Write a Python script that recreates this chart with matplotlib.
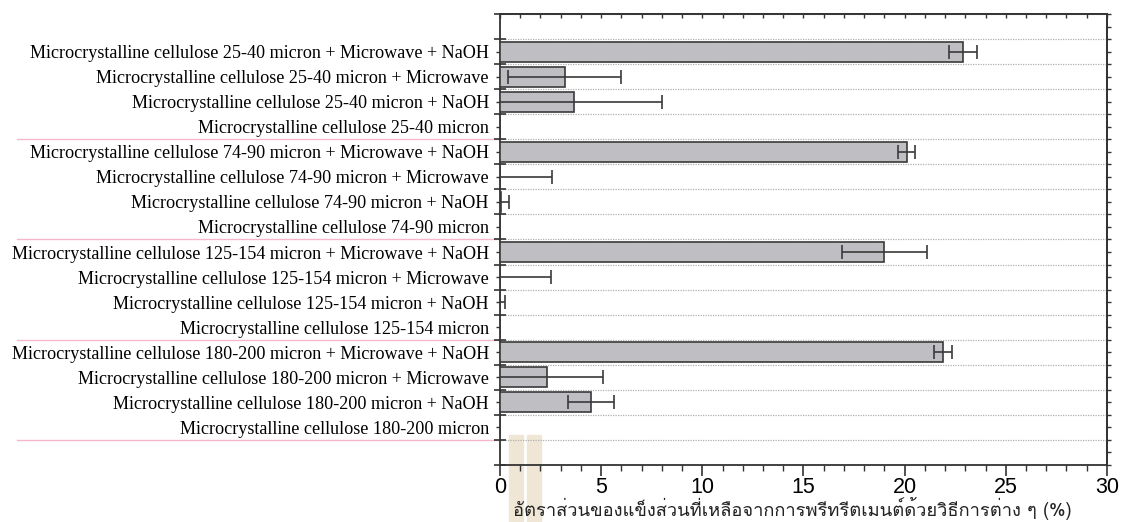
import matplotlib
matplotlib.use('Agg')
import matplotlib.pyplot as plt
from matplotlib.patches import Rectangle
from matplotlib.ticker import MultipleLocator
import numpy as np

# data, top row first
labels = [
    'Microcrystalline cellulose 25-40 micron + Microwave + NaOH',
    'Microcrystalline cellulose 25-40 micron + Microwave',
    'Microcrystalline cellulose 25-40 micron + NaOH',
    'Microcrystalline cellulose 25-40 micron',
    'Microcrystalline cellulose 74-90 micron + Microwave + NaOH',
    'Microcrystalline cellulose 74-90 micron + Microwave',
    'Microcrystalline cellulose 74-90 micron + NaOH',
    'Microcrystalline cellulose 74-90 micron',
    'Microcrystalline cellulose 125-154 micron + Microwave + NaOH',
    'Microcrystalline cellulose 125-154 micron + Microwave',
    'Microcrystalline cellulose 125-154 micron + NaOH',
    'Microcrystalline cellulose 125-154 micron',
    'Microcrystalline cellulose 180-200 micron + Microwave + NaOH',
    'Microcrystalline cellulose 180-200 micron + Microwave',
    'Microcrystalline cellulose 180-200 micron + NaOH',
    'Microcrystalline cellulose 180-200 micron',
]
values = [22.9, 3.2, 3.65, 0.0,
          20.1, 0.0, 0.05, 0.0,
          19.0, 0.0, 0.02, 0.0,
          21.9, 2.3, 4.5, 0.0]
errors = [0.7, 2.8, 4.35, 0.0,
          0.42, 2.55, 0.4, 0.0,
          2.1, 2.5, 0.22, 0.0,
          0.43, 2.8, 1.14, 0.0]
group_size = 4
xlabel = 'อัตราส่วนของแข็งส่วนที่เหลือจากการพรีทรีตเมนต์ด้วยวิธีการต่าง ๆ (%)'

fig = plt.figure(figsize=(11.22, 5.22), dpi=100)
ax = fig.add_axes([0.4456, 0.1092, 0.5410, 0.8640])
ax.patch.set_alpha(0)

# faint watermark blocks at the bottom
for x0 in (509, 527):
    fig.patches.append(Rectangle((x0 / 1122, 0), 14 / 1122, 87 / 522,
                                 transform=fig.transFigure, color='#efe6d6',
                                 zorder=-5))

y = np.arange(len(labels))
ax.barh(y, values, height=0.8, color='#bfbfc3', edgecolor='#3a3a3a',
        linewidth=1.2, zorder=3)
ax.errorbar(values, y, xerr=errors, fmt='none', ecolor='#3a3a3a',
            elinewidth=1.2, capsize=5, capthick=1.2, zorder=4)

ax.set_xlim(0, 30)
ax.set_ylim(len(labels) + 0.5, -1.5)

bounds = np.arange(-1.5, len(labels) + 1.0, 1.0)
ax.set_yticks(bounds)
ax.set_yticklabels([])
ax.set_yticks(y, minor=True)
ax.set_yticklabels(labels, minor=True, fontfamily='Liberation Serif',
                   fontsize=13.1)
ax.yaxis.grid(True, which='major', linestyle=(0, (1, 1)), color='#b0b0b0',
              linewidth=0.9)
ax.tick_params(axis='y', which='major', direction='inout', length=9,
               width=1.2, left=True, right=False, color='#333333')
ax.tick_params(axis='y', which='minor', direction='out', length=3,
               width=1, left=True, right=False, pad=5, color='#333333')

ax.xaxis.set_major_locator(MultipleLocator(5))
ax.xaxis.set_minor_locator(MultipleLocator(1))
ax.tick_params(axis='x', which='major', direction='out', length=8,
               width=1.2, top=False, color='#333333', labelsize=15.5, pad=1)
ax.tick_params(axis='x', which='minor', direction='out', length=4,
               width=1, top=False, color='#333333')
for t in ax.get_xticklabels():
    t.set_fontfamily('Liberation Sans')

# top: small inward ticks, right: small outward ticks
top = ax.secondary_xaxis('top')
top.xaxis.set_major_locator(MultipleLocator(1))
top.tick_params(direction='in', length=3, width=1, color='#333333',
                labeltop=False)
right = ax.secondary_yaxis('right')
right.set_yticks(np.arange(-1.5, len(labels) + 0.6, 0.5))
right.tick_params(direction='out', length=3, width=1, color='#333333',
                  labelright=False)

for a in (ax, top, right):
    for s in a.spines.values():
        s.set_color('#333333')
        s.set_linewidth(1.3)

# x label sits at the very bottom of the figure
fig.text(792 / 1122, 0.003, xlabel, family=['Loma', 'DejaVu Sans'],
         fontsize=13.2, color='#222222', ha='center', va='bottom')

# pink separators between groups, running under the labels
for b in range(group_size - 1, len(labels), group_size):
    ax.plot([-0.795, 0], [b + 0.5, b + 0.5], transform=ax.get_yaxis_transform(),
            color='#f4b8c8', linewidth=1, clip_on=False, zorder=1)

fig.savefig('out.png', dpi=100)
